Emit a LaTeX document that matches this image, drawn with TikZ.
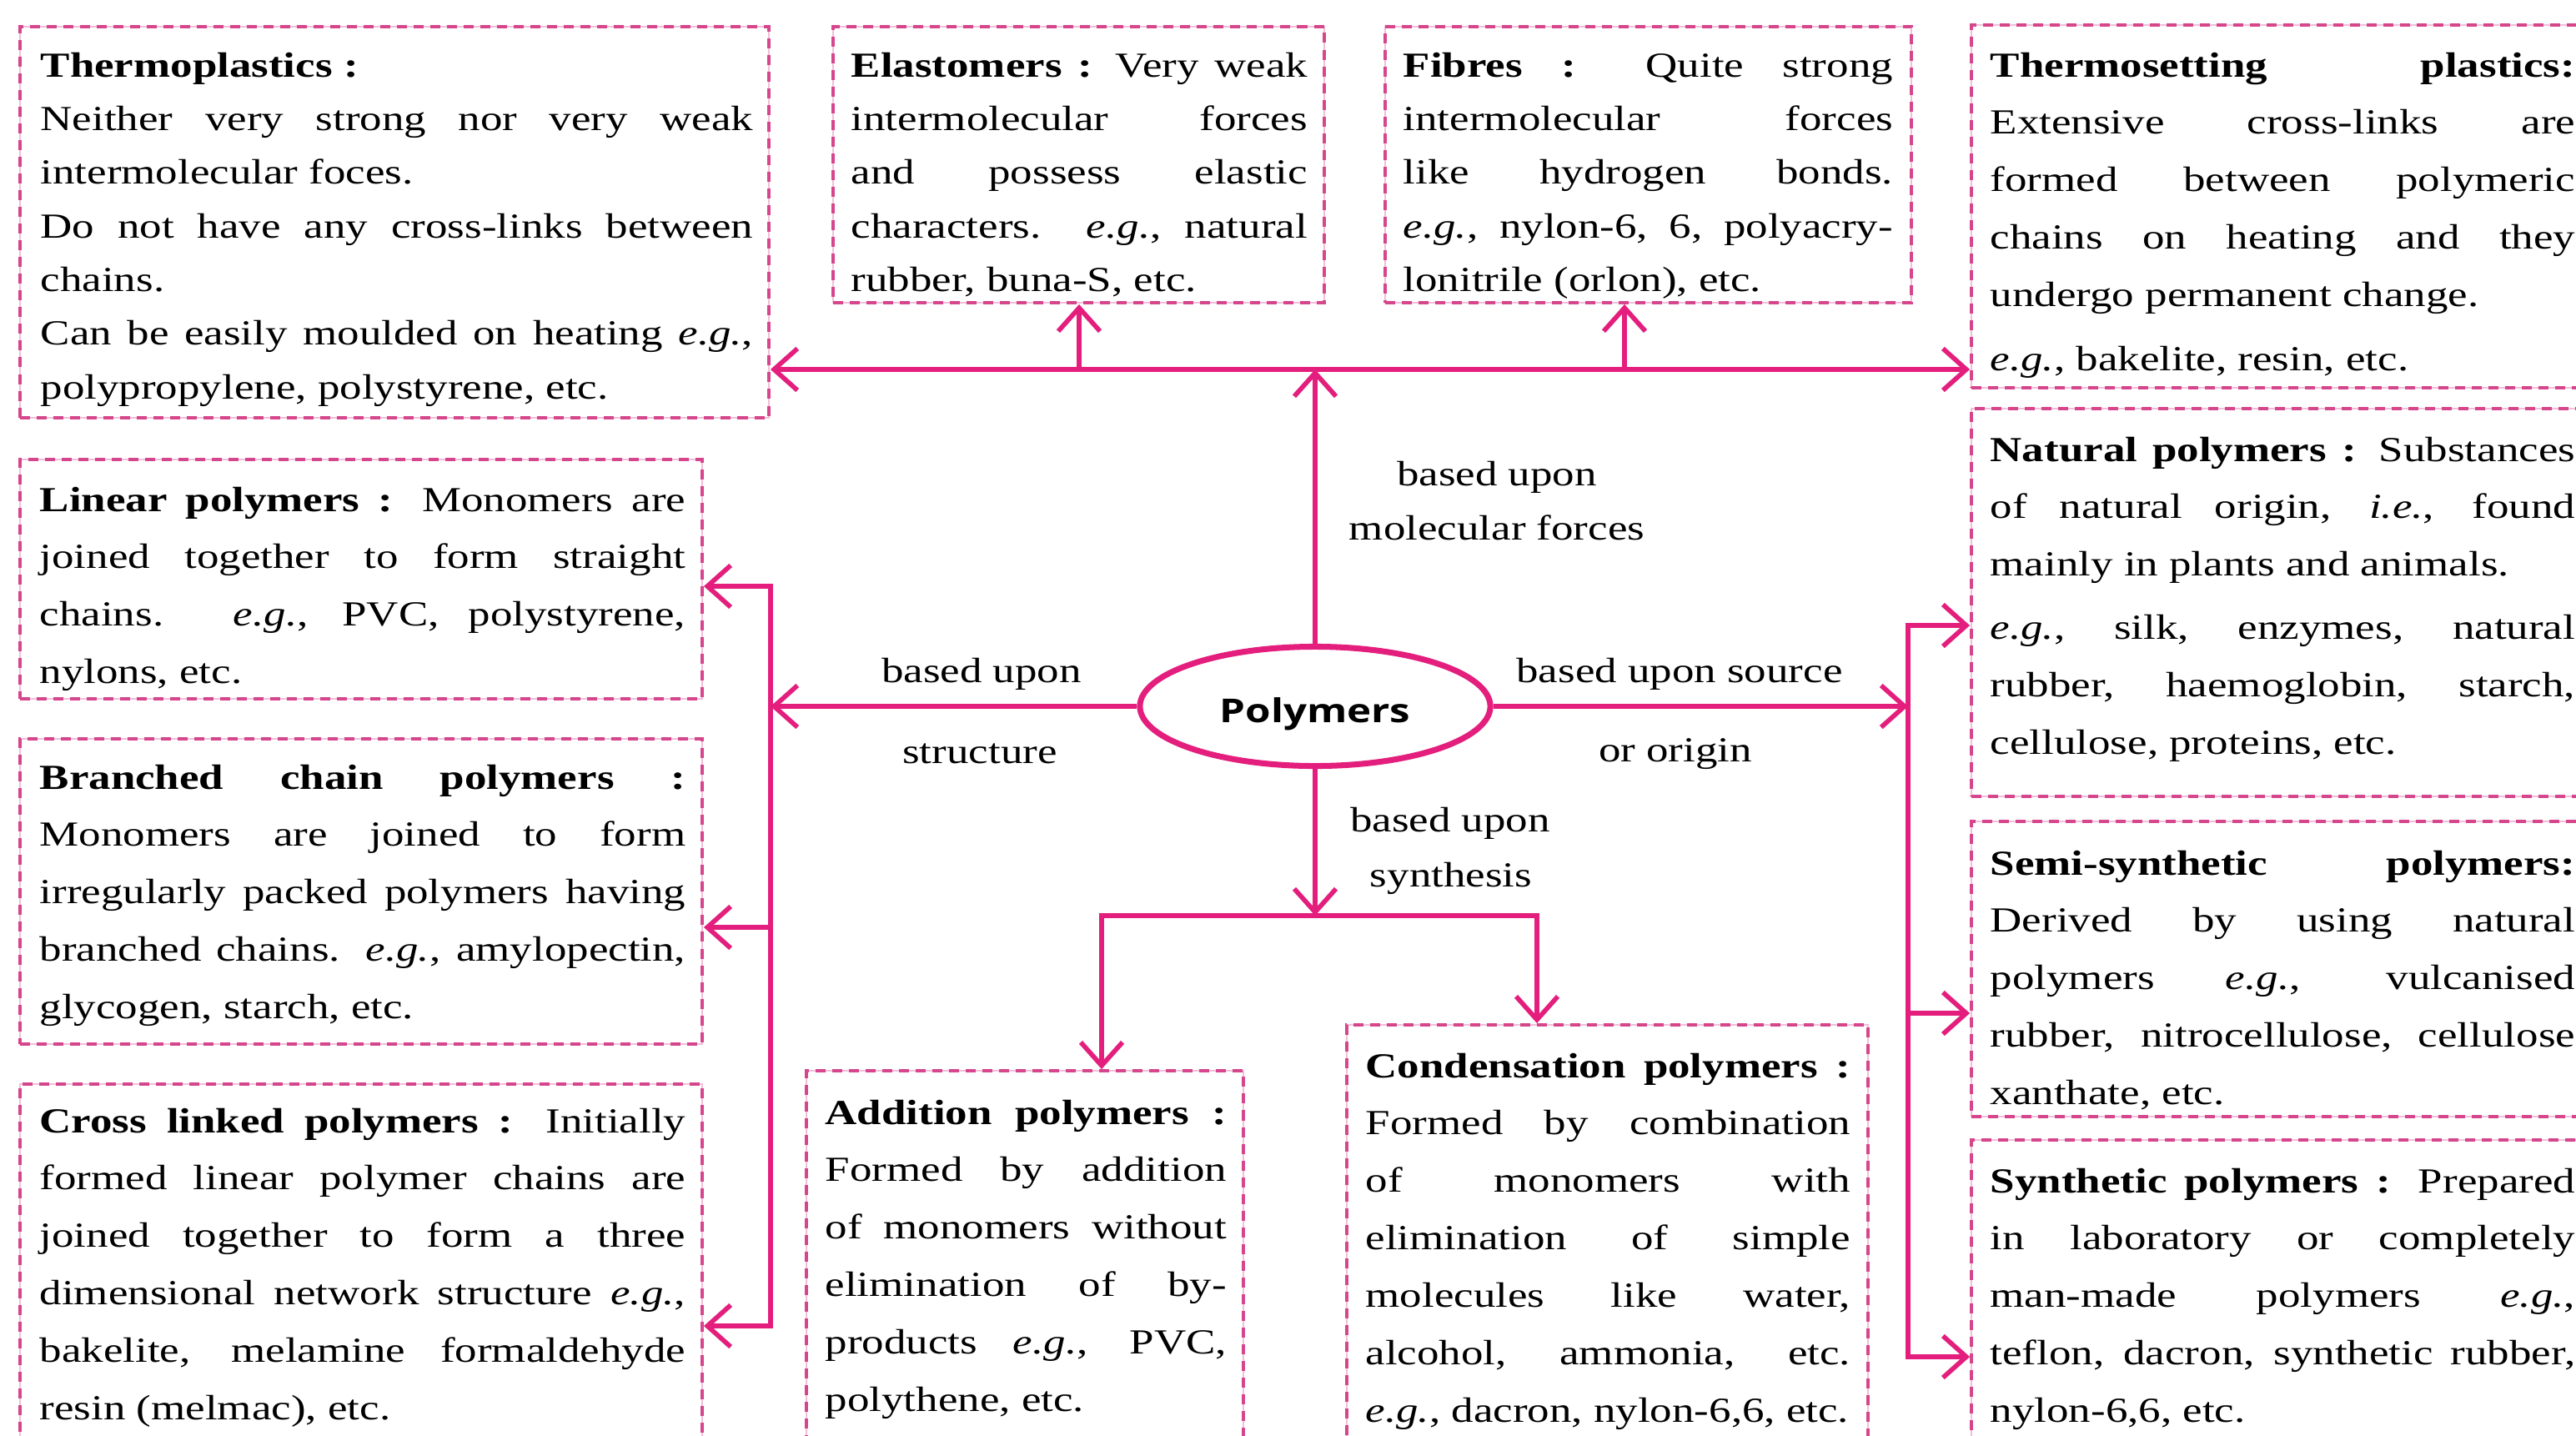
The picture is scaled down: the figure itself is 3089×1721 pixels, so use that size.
\documentclass[tikz,border=0pt]{standalone}
\usepackage{fontspec}
\setmainfont{Liberation Serif}[FakeStretch=1.255]
\newfontfamily\polyfont{Open Sans}[FakeStretch=1.25]
\usetikzlibrary{fit,shapes.geometric,arrows.meta}
\definecolor{conn}{RGB}{228,30,125}
\definecolor{boxpink}{RGB}{214,70,140}
\definecolor{boxlight}{RGB}{242,190,215}
\tolerance=10000
\hyphenpenalty=10000
\exhyphenpenalty=10000
\hbadness=10000
\hfuzz=20pt
\tikzset{
  pbox/.style={draw=boxpink, line width=1.1pt, dash pattern=on 0.12cm off 0.08cm,
    preaction={draw=boxlight, line width=0.8pt, solid}, inner sep=0pt},
  toptxt/.style={inner sep=0pt, anchor=base west, align=justify, font=\fontsize{12pt}{18.3pt}\selectfont},
  txt/.style={inner sep=0pt, anchor=base west, align=justify, font=\fontsize{12pt}{19.6pt}\selectfont},
  lbl/.style={inner sep=0pt, anchor=base, font=\fontsize{12pt}{14pt}\selectfont},
  conn/.style={draw=conn, line width=1.6pt},
}
\begin{document}
\begin{tikzpicture}[x=0.01cm, y=-0.01cm, >={Straight Barb[length=0.28cm,width=0.5cm]}]
\useasboundingbox (0,0) rectangle (3089,1721);
\fill[white] (0,0) rectangle (3089,1721);

% ---------- boxes ----------
\node[pbox, fit={(24,32) (922,501)}] (thermo) {};
\node[pbox, fit={(999,32) (1588,363)}] (elast) {};
\node[pbox, fit={(1661,32) (2292,363)}] (fibres) {};
\node[pbox, fit={(2364,30) (3120,465)}] (tset) {};
\node[pbox, fit={(2364,490) (3120,955)}] (natural) {};
\node[pbox, fit={(2364,985) (3120,1339)}] (semi) {};
\node[pbox, fit={(2364,1367) (3120,1760)}] (synth) {};
\node[pbox, fit={(24,551) (842,838)}] (linear) {};
\node[pbox, fit={(24,886) (842,1252)}] (branched) {};
\node[pbox, fit={(24,1300) (842,1760)}] (cross) {};
\node[pbox, fit={(967,1284) (1491,1760)}] (addition) {};
\node[pbox, fit={(1615,1229) (2240,1760)}] (condens) {};

% ---------- box texts ----------
\node[toptxt, text width=8.54cm] (thermoT) at (48,92) {\textbf{Thermoplastics :}\\
Neither very strong nor very weak\linebreak
intermolecular foces.\\
Do not have any cross-links between\linebreak
chains.\\
Can be easily moulded on heating \textit{e.g.},\linebreak
polypropylene, polystyrene, etc.};

\node[toptxt, text width=5.47cm] (elastT) at (1020,92) {\textbf{Elastomers :} Very weak\linebreak
intermolecular forces\linebreak
and possess elastic\linebreak
characters. \textit{e.g.}, natural\linebreak
rubber, buna-S, etc.};

\node[toptxt, text width=5.87cm] (fibT) at (1682,92) {\textbf{Fibres :} Quite strong\linebreak
intermolecular forces\linebreak
like hydrogen bonds.\linebreak
\textit{e.g.}, nylon-6, 6, polyacry-\linebreak
lonitrile (orlon), etc.};

\node[txt, text width=7.01cm] (tsetT) at (2386,92) {\textbf{Thermosetting plastics:}\linebreak
Extensive cross-links are\linebreak
formed between polymeric\linebreak
chains on heating and they\linebreak
undergo permanent change.\\[0.08cm]
\textit{e.g.}, bakelite, resin, etc.};

\node[txt, text width=7.01cm] (natT) at (2386,553) {\textbf{Natural polymers :} Substances\linebreak
of natural origin, \textit{i.e.}, found\linebreak
mainly in plants and animals.\\[0.07cm]
\textit{e.g.}, silk, enzymes, natural\linebreak
rubber, haemoglobin, starch,\linebreak
cellulose, proteins, etc.};

\node[txt, text width=7.01cm] (semiT) at (2386,1049) {\textbf{Semi-synthetic polymers:}\linebreak
Derived by using natural\linebreak
polymers \textit{e.g.}, vulcanised\linebreak
rubber, nitrocellulose, cellulose\linebreak
xanthate, etc.};

\node[txt, text width=7.01cm] (synT) at (2386,1430) {\textbf{Synthetic polymers :} Prepared\linebreak
in laboratory or completely\linebreak
man-made polymers \textit{e.g.},\linebreak
teflon, dacron, synthetic rubber,\linebreak
nylon-6,6, etc.};

\node[txt, text width=7.74cm] (linT) at (47,613) {\textbf{Linear polymers :} Monomers are\linebreak
joined together to form straight\linebreak
chains. \textit{e.g.}, PVC, polystyrene,\linebreak
nylons, etc.};

\node[txt, text width=7.74cm] (brT) at (47,946) {\textbf{Branched chain polymers :}\linebreak
Monomers are joined to form\linebreak
irregularly packed polymers having\linebreak
branched chains. \textit{e.g.}, amylopectin,\linebreak
glycogen, starch, etc.};

\node[txt, text width=7.74cm] (crT) at (47,1358) {\textbf{Cross linked polymers :} Initially\linebreak
formed linear polymer chains are\linebreak
joined together to form a three\linebreak
dimensional network structure \textit{e.g.},\linebreak
bakelite, melamine formaldehyde\linebreak
resin (melmac), etc.};

\node[txt, text width=4.81cm] (addT) at (989,1348) {\textbf{Addition polymers :}\linebreak
Formed by addition\linebreak
of monomers without\linebreak
elimination of by-\linebreak
products \textit{e.g.}, PVC,\linebreak
polythene, etc.};

\node[txt, text width=5.81cm] (conT) at (1637,1292) {\textbf{Condensation polymers :}\linebreak
Formed by combination\linebreak
of monomers with\linebreak
elimination of simple\linebreak
molecules like water,\linebreak
alcohol, ammonia, etc.\linebreak
\mbox{\textit{e.g.}, dacron, nylon-6,6, etc.}};

% ---------- centre ----------
\node[ellipse, draw=conn, line width=2pt, fill=white, minimum width=4.2cm, minimum height=1.43cm,
  inner sep=0pt, text height=11.3pt, text depth=0pt,
  font=\polyfont\bfseries\fontsize{11.2pt}{13pt}\selectfont] (poly) at (1577,847) {Polymers};

% ---------- labels ----------
\node[lbl] (lmolA) at (1795,582) {based upon};
\node[lbl] (lmolB) at (1795,647) {molecular forces};
\node[lbl] (lstrA) at (1177,818) {based upon};
\node[lbl] (lstrB) at (1175,915) {structure};
\node[lbl] (lsrcA) at (2014,818) {based upon source};
\node[lbl] (lsrcB) at (2009,913) {or origin};
\node[lbl] (lsynA) at (1739,997) {based upon};
\node[lbl] (lsynB) at (1740,1063) {synthesis};

% ---------- connectors ----------
\coordinate (topbar) at (1577,443);
\coordinate (fibx) at (1948,443);
\coordinate (elx) at (1294,443);
\draw[conn,->] (poly.north) -- (topbar);
\draw[conn,<->] (thermo.east |- topbar) -- (tset.west |- topbar);
\draw[conn,->] (elx) -- (elx |- elast.south);
\draw[conn,->] (fibx) -- (fibx |- fibres.south);

\coordinate (lv1) at (924,703);
\coordinate (lv2) at (924,1112);
\coordinate (lv3) at (924,1590);
\draw[conn,->] (poly.west) -- (poly.west -| lv1);
\draw[conn,<->] (lv1 -| linear.east) -- (lv1) -- (lv3) -- (lv3 -| cross.east);
\draw[conn,->] (lv2) -- (lv2 -| branched.east);

\coordinate (rv1) at (2288,750);
\coordinate (rv2) at (2288,1215);
\coordinate (rv3) at (2288,1627);
\draw[conn,->] (poly.east) -- (poly.east -| rv1);
\draw[conn,<->] (rv1 -| natural.west) -- (rv1) -- (rv3) -- (rv3 -| synth.west);
\draw[conn,->] (rv2) -- (rv2 -| semi.west);

\coordinate (bbar) at (1577,1098);
\coordinate (bl) at (1321,1098);
\coordinate (br) at (1843,1098);
\draw[conn,->] (poly.south) -- (bbar);
\draw[conn,<->] (bl |- addition.north) -- (bl) -- (br) -- (br |- condens.north);
\end{tikzpicture}
\end{document}
